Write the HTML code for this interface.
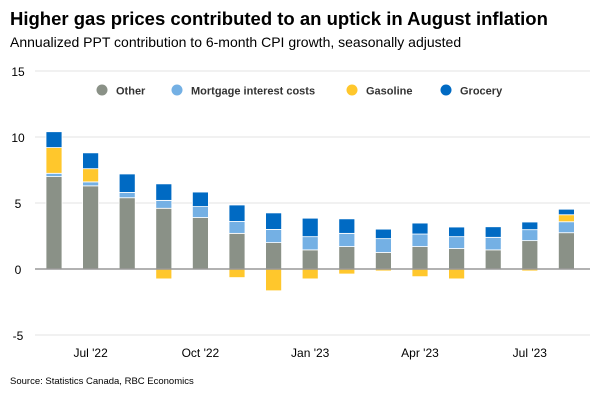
<!DOCTYPE html>
<html><head><meta charset="utf-8"><style>
body{margin:0;background:#fff;font-family:"Liberation Sans",sans-serif}
</style></head><body>
<svg width="600" height="400" xmlns="http://www.w3.org/2000/svg" font-family="Liberation Sans, sans-serif">
<text x="10" y="25" font-size="18.5" font-weight="bold" fill="#000">Higher gas prices contributed to an uptick in August inflation</text>
<text x="10" y="47" font-size="14" fill="#000">Annualized PPT contribution to 6-month CPI growth, seasonally adjusted</text>
<g id="grid"></g>
<g id="bars"></g>
<g id="legend" font-size="11" font-weight="bold" fill="#333"></g>
<text x="10" y="384" font-size="9.5" fill="#000">Source: Statistics Canada, RBC Economics</text>
</svg>
<script>
const months = ["Jun '22","Jul '22","Aug '22","Sep '22","Oct '22","Nov '22","Dec '22","Jan '23","Feb '23","Mar '23","Apr '23","May '23","Jun '23","Jul '23","Aug '23"];
const other = [7.0,6.3,5.4,4.6,3.9,2.7,2.0,1.45,1.7,1.25,1.7,1.55,1.45,2.15,2.75];
const mortgage = [0.25,0.3,0.4,0.6,0.83,0.9,1.0,1.0,1.0,1.05,0.95,0.9,0.95,0.83,0.83];
const gasoline = [1.95,1.0,0,-0.75,0,-0.65,-1.65,-0.75,-0.38,-0.15,-0.58,-0.75,0,-0.15,0.53];
const grocery = [1.2,1.2,1.4,1.25,1.1,1.25,1.25,1.4,1.1,0.72,0.83,0.73,0.8,0.58,0.42];
const yTicks = [-5,0,5,10,15];
const xTickIdx = [1,4,7,10,13];
const xTickLabels = ["Jul '22","Oct '22","Jan '23","Apr '23","Jul '23"];
const NS="http://www.w3.org/2000/svg";
const y = v => 269 - v*13.2;
const x = i => 54 + i*36.6;
const grid=document.getElementById('grid'), bars=document.getElementById('bars'), leg=document.getElementById('legend');
function mk(tag,attrs,parent){const e=document.createElementNS(NS,tag);for(const k in attrs)e.setAttribute(k,attrs[k]);parent.appendChild(e);return e;}
yTicks.forEach(t=>{
  if(t!==0){const l=mk('line',{x1:35,x2:590,y1:y(t),y2:y(t),stroke:'#e3e3e3','stroke-width':1},grid);
  
  }
  const tx=mk('text',{x:18,y:y(t)+5,'font-size':12,'text-anchor':'middle',fill:'#000'},grid);tx.textContent=t;
  
  
});
xTickIdx.forEach((i,k)=>{
  const tx=mk('text',{x:x(i),y:357,'font-size':12,'text-anchor':'middle',fill:'#000'},grid);tx.textContent=xTickLabels[k];
  
  
});
const series=[["other",other,"#8a9187"],["mortgage",mortgage,"#74b0e4"],["gasoline",gasoline,"#ffc72c"],["grocery",grocery,"#006ac3"]];
months.forEach((m,i)=>{
  let pos=0,neg=0;
  series.forEach(([n,arr,c])=>{
    const v=arr[i]; if(!v)return;
    let y0,y1;
    if(v>0){y0=pos;y1=pos+v;pos=y1;}else{y0=neg;y1=neg+v;neg=y1;}
    const top=y(Math.max(y0,y1)),bot=y(Math.min(y0,y1));
    const r=mk('rect',{x:x(i)-8,y:top,width:16,height:Math.max(bot-top,0.5),fill:c,stroke:'#fff','stroke-width':0.8},bars);
    
    
  });
});
const zl=mk('line',{x1:35,x2:590,y1:y(0),y2:y(0),stroke:'#999','stroke-width':1.5},bars);


const legItems=[["Other","#8a9187",102],["Mortgage interest costs","#74b0e4",177],["Gasoline","#ffc72c",352],["Grocery","#006ac3",446]];
legItems.forEach(([t,c,lx])=>{
  const g=mk('g',{},leg);
  
  
  mk('circle',{cx:lx,cy:90,r:5.5,fill:c},g);
  const tx=mk('text',{x:lx+14,y:94.5},g);tx.textContent=t;
});
</script>
</body></html>
